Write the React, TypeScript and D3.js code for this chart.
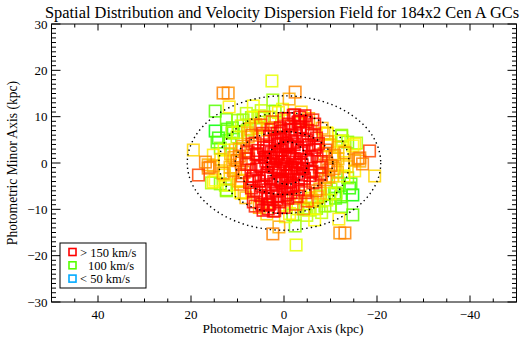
import React from "react";
import * as d3 from "d3";

const W = 524, H = 337;
const TITLE = "Spatial Distribution and Velocity Dispersion Field for 184x2 Cen A GCs";
const X_LABEL = "Photometric Major Axis (kpc)";
const Y_LABEL = "Photometric Minor Axis (kpc)";
const X_TICKS = [40, 20, 0, -20, -40];
const Y_TICKS = [30, 20, 10, 0, -10, -20, -30];
const LEGEND_VALUES = [160, 100, 50];
const LEGEND_LABELS = ["> 150 km/s", "100 km/s", "<  50 km/s"];

// one GC of each pair: [x kpc, y kpc, dispersion km/s]; the other is point-mirrored
const GC_X = [
  2.6, 13.1, 12.0, 14.8, 11.8, 14.8, 19.5, 18.4, -2.4, -1.1, 6.6, 2.4, 12.2, 14.4, 13.7, 11.6, 16.9, 16.3, 15.2, 12.4,
  9.4, 6.6, 3.6, 4.5, 1.5, -3.4, -6.2, -9.2, -12.4, -13.7, -15.6, -16.3, -15.2, -10.9, -1.9,
  8.8, 6.6, 4.5, 3.0, 5.8, 7.9, 3.6, 10.1, 12.9, 10.5,
  15.2, 15.9, 14.8, 12.6, 13.1, 11.6, 10.1, 9.4, 14.1, 11.1,
  0.5, 1.8, -1.2, 2.9, -2.5, 0.9, -0.6, 3.6, -3.8, 1.3, -1.9, 4.4, 5.2, -4.9, 2.2, -3.1, 6.0, -5.8, 0.2, 3.1,
  -4.0, 5.3, 7.1, -6.8, -2.4, 0.8, -5.1, 4.6, 6.8, 1.7, -1.0, 7.4, 8.2, -7.6, -4.4, 3.4, 5.9, -3.0, -0.9, 2.5,
  -6.5, 9.0, -8.6, 0.0, -2.0, 1.1, -1.6, 2.4, -0.3, 4.0, -3.3, 0.6, -1.4, 2.7, -2.2,
  8.9, 10.1, 9.8, 10.9, 11.5, -9.6, -10.4, -10.8, -9.3, -11.6, 7.8, 6.1, 8.6, -7.7, -6.0, -8.2, 4.6, 12.8, -12.9,
  13.6, 11.9, -5.3, 1.2, -3.7,
  9.2, 11.2, 10.0, 12.4, 8.1, 4.9, 7.0, 5.3, 9.9, 0.3,
  -0.2, 1.0, -1.7, 2.2, -2.9, 3.9, -4.2, 0.4, -0.8, 1.9, -2.7, 3.7, -3.9, 5.6, -5.4, 4.9, -1.5, 0.6, -6.2, 6.6,
  2.8, -3.5, -5.9, 7.7, 1.3, -7.0, 5.0, -1.0, 3.2, 0.0, -4.8, 8.0, -8.0, 6.9, -2.3, 2.0, -9.2, 9.6, 4.2, -7.2,
];
const GC_Y = [
  17.7, 15.1, 15.1, 11.2, 12.1, 6.9, 2.8, -2.6, 15.3, 13.8, 12.3, 13.6, 7.3, 4.5, 3.2, 4.3, 0.2, -0.4, -4.1, -5.8,
  -6.3, -8.4, -9.1, -10.2, -8.0, 9.9, 9.3, 6.5, 6.0, 4.5, 4.3, 1.1, 0.6, -6.5, -11.2,
  9.3, 9.9, 9.7, 9.9, 7.6, 7.1, 7.1, 5.6, 2.8, 2.8,
  1.7, -0.9, -3.7, -4.8, -2.2, -0.9, 0.6, -3.7, 5.4, 7.6,
  0.3, -0.9, 1.5, 1.1, -0.4, 2.8, -2.7, -2.2, 2.6, 4.1, 4.4, 3.3, -0.6, 0.8, -4.0, -3.6, 1.8, -2.0, 5.6, 5.7,
  5.2, -3.9, -1.5, 3.4, 7.2, 7.6, 7.0, 6.4, 4.1, -6.1, -5.3, -4.2, 0.9, -0.9, -6.0, -7.2, -6.0, 8.8, 9.6, 8.9,
  6.2, -2.8, 2.0, -8.0, -7.6, 1.9, -1.3, -0.2, 3.5, 1.2, 0.2, -3.9, -4.8, 2.3, 1.0,
  3.6, 0.5, -3.9, -1.7, 2.0, -3.0, 1.4, -1.2, 4.6, 3.4, 6.5, 8.3, -6.4, -5.6, -8.0, 7.5, -9.1, -2.6, -0.4,
  0.8, -4.7, 9.6, 10.9, 11.0,
  8.0, 6.5, 9.2, 9.4, 10.7, 11.3, 9.8, 10.2, 6.6, 11.6,
  1.2, -1.8, -1.0, 2.0, 3.2, 0.4, -1.3, -4.3, 3.7, 5.0, 5.9, -3.3, -2.6, 2.7, 3.9, -5.0, -6.4, 6.8, -4.3, -2.8,
  7.2, 7.8, 1.3, 2.3, -7.3, 5.4, 8.2, 8.4, -8.9, -9.6, 8.9, -0.3, -2.6, 6.0, 10.4, -10.3, 0.0, 1.5, 9.9, -7.4,
];
const GC_V = [
  117, 135, 133, 100, 122, 90, 125, 142, 135, 130, 120, 108, 98, 100, 105, 103, 135, 130, 122, 105,
  120, 148, 152, 152, 145, 150, 146, 122, 108, 105, 110, 135, 130, 100, 105,
  108, 112, 110, 115, 118, 112, 125, 112, 118, 125,
  122, 135, 120, 112, 132, 128, 135, 122, 95, 100,
  170, 165, 168, 160, 158, 162, 166, 155, 157, 152, 160, 150, 152, 155, 158, 150, 148, 150, 155, 150,
  152, 150, 148, 150, 152, 150, 148, 145, 142, 155, 160, 147, 140, 145, 138, 150, 147, 152, 150, 140,
  146, 140, 138, 140, 135, 165, 168, 170, 162, 160, 164, 158, 163, 166, 169,
  132, 130, 128, 133, 128, 130, 128, 132, 135, 126, 128, 125, 125, 130, 126, 128, 124, 122, 120,
  126, 118, 130, 122, 125,
  115, 110, 108, 102, 112, 112, 106, 114, 116, 118,
  172, 170, 168, 166, 162, 160, 158, 160, 164, 156, 155, 158, 160, 152, 152, 152, 150, 150, 145, 150,
  148, 150, 152, 146, 148, 148, 140, 155, 150, 145, 150, 146, 142, 138, 148, 148, 138, 136, 132, 128,
];

const ELL_A = [20.8, 14.0, 10.5, 4.3];
const ELL_B = [14.5, 10.9, 6.8, 4.6];
const ELL_DX = [0, 0, 0, -0.7];

const margin = { left: 51.5, right: 516.5, top: 24, bottom: 302 };
const FONT = "Liberation Serif, DejaVu Serif, serif";

function colorFor(v: number) {
  const h = Math.max(0, Math.min(200, 2 * (150 - v)));
  return d3.hsl(h, 1, 0.5).formatHex();
}

export default function App() {
  const x = d3.scaleLinear().domain([50, -50]).range([margin.left, margin.right]);
  const y = d3.scaleLinear().domain([-30, 30]).range([margin.bottom, margin.top]);

  const base = GC_X.map((gx, i) => ({ x: gx, y: GC_Y[i], v: GC_V[i] }));
  const all = base.flatMap((p) => [p, { x: -p.x, y: -p.y, v: p.v }]).sort((a, b) => a.v - b.v);
  const S = 11.5;

  const xMinor = d3.range(-50, 50.1, 5);
  const yMinor = d3.range(-30, 30.1, 1);

  return (
    <svg width={W} height={H} fontFamily={FONT} style={{ position: "absolute", left: 0, top: 0, background: "#fff" }}>
      <text x={282} y={18} fontSize={16.4} textAnchor="middle">{TITLE}</text>
      <g fill="none" strokeWidth={1.6} strokeOpacity={0.85}>
        {all.map((p, i) => (
          <rect key={i} x={x(p.x) - S / 2} y={y(p.y) - S / 2} width={S} height={S} stroke={colorFor(p.v)} />
        ))}
      </g>
      <g fill="none" stroke="#000" strokeWidth={1.4} strokeDasharray="1.4 3.2">
        {ELL_A.map((a, i) => (
          <ellipse key={i} cx={x(ELL_DX[i])} cy={y(0)} rx={Math.abs(x(a) - x(0))} ry={Math.abs(y(ELL_B[i]) - y(0))} />
        ))}
      </g>
      <rect x={margin.left} y={margin.top} width={margin.right - margin.left} height={margin.bottom - margin.top} fill="none" stroke="#000" strokeWidth={1} />
      <g stroke="#000" strokeWidth={1}>
        {xMinor.map((t) => {
          const major = X_TICKS.includes(t);
          const L = major ? 6.5 : 3.5;
          return (
            <g key={"x" + t}>
              <line x1={x(t)} x2={x(t)} y1={margin.bottom} y2={margin.bottom - L} />
              <line x1={x(t)} x2={x(t)} y1={margin.top} y2={margin.top + L} />
            </g>
          );
        })}
        {yMinor.map((t) => {
          const major = Y_TICKS.includes(t);
          const L = major ? 9 : 4.5;
          return (
            <g key={"y" + t}>
              <line x1={margin.left} x2={margin.left + L} y1={y(t)} y2={y(t)} />
              <line x1={margin.right} x2={margin.right - L} y1={y(t)} y2={y(t)} />
            </g>
          );
        })}
      </g>
      {X_TICKS.map((t) => (
        <text key={"xl" + t} x={x(t)} y={319} fontSize={13} textAnchor="middle">
          {t < 0 ? "\u2212" + Math.abs(t) : String(t)}
        </text>
      ))}
      {Y_TICKS.map((t) => (
        <text key={"yl" + t} x={47.5} y={y(t) + 4.5} fontSize={13} textAnchor="end">
          {t < 0 ? "\u2212" + Math.abs(t) : String(t)}
        </text>
      ))}
      <text x={283} y={333} fontSize={13.4} textAnchor="middle">{X_LABEL}</text>
      <text transform={`translate(17,163) rotate(-90)`} fontSize={13.6} textAnchor="middle">{Y_LABEL}</text>
      <rect x={60} y={243} width={86} height={45} fill="#fff" stroke="#000" strokeWidth={1} />
      {LEGEND_VALUES.map((v, i) => (
        <g key={"lg" + i}>
          <rect x={69} y={248.5 + i * 13.3} width={7} height={7} fill="none" stroke={colorFor(v)} strokeWidth={1.6} />
          <text x={i === 1 ? 88 : 80} y={256.5 + i * 13.3} fontSize={12.5}>{LEGEND_LABELS[i]}</text>
        </g>
      ))}
    </svg>
  );
}
